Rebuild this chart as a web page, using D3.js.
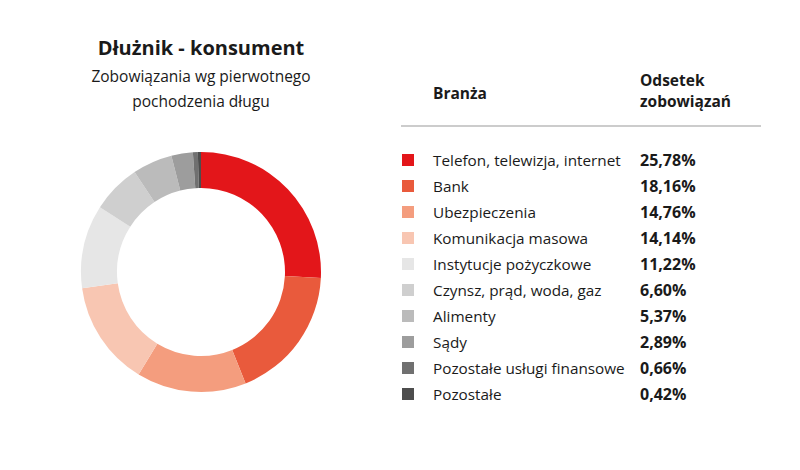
<!DOCTYPE html>
<meta charset="utf-8">
<script src="https://d3js.org/d3.v7.min.js"></script>
<style>
  body { margin: 0; background: #fff; }
  text { font-family: "Open Sans", sans-serif; fill: #1a1a1a; }
</style>
<div id="my_dataviz"></div>
<script>

// data
var categories = ["Telefon, telewizja, internet", "Bank", "Ubezpieczenia", "Komunikacja masowa",
  "Instytucje pożyczkowe", "Czynsz, prąd, woda, gaz", "Alimenty", "Sądy",
  "Pozostałe usługi finansowe", "Pozostałe"];
var values = [25.78, 18.16, 14.76, 14.14, 11.22, 6.60, 5.37, 2.89, 0.66, 0.42];
var colors = ["#e3161a", "#e95a3c", "#f49d7e", "#f8c6b2", "#e6e6e6", "#cfcfcf", "#bbbbbb", "#9d9d9d", "#707070", "#4d4d4d"];

var width = 800, height = 470;

var svg = d3.select("#my_dataviz")
  .append("svg")
    .attr("width", width)
    .attr("height", height);

// titles
svg.append("text")
  .attr("x", 201).attr("y", 55)
  .attr("text-anchor", "middle")
  .style("font-size", "20px").style("font-weight", "bold")
  .text("Dłużnik - konsument");

svg.append("text")
  .attr("x", 201).attr("y", 82)
  .attr("text-anchor", "middle")
  .style("font-size", "15.5px")
  .text("Zobowiązania wg pierwotnego");

svg.append("text")
  .attr("x", 201).attr("y", 107)
  .attr("text-anchor", "middle")
  .style("font-size", "15.5px")
  .text("pochodzenia długu");

// donut
var color = d3.scaleOrdinal().domain(categories).range(colors);

var pie = d3.pie().sort(null).value(function(d, i) { return values[i]; });
var arc = d3.arc().innerRadius(84).outerRadius(120);

var g = svg.append("g").attr("transform", "translate(201,272)");
g.selectAll("path")
  .data(pie(categories))
  .enter()
  .append("path")
    .attr("d", arc)
    .attr("fill", function(d) { return color(d.data); });

// legend table
var rowY = d3.scalePoint().domain(categories).range([160, 394]);

svg.append("text")
  .attr("x", 433).attr("y", 99)
  .style("font-size", "15.5px").style("font-weight", "bold")
  .text("Branża");
svg.append("text")
  .attr("x", 640).attr("y", 86)
  .style("font-size", "15.5px").style("font-weight", "bold")
  .text("Odsetek");
svg.append("text")
  .attr("x", 640).attr("y", 107)
  .style("font-size", "15.5px").style("font-weight", "bold")
  .text("zobowiązań");

svg.append("line")
  .attr("x1", 401).attr("x2", 761)
  .attr("y1", 126).attr("y2", 126)
  .attr("stroke", "#cccccc")
  .attr("stroke-width", 2);

var rows = svg.selectAll(".row")
  .data(categories)
  .enter()
  .append("g")
    .attr("class", "row")
    .attr("transform", function(d) { return "translate(0," + rowY(d) + ")"; });

rows.append("rect")
  .attr("x", 402).attr("y", -6)
  .attr("width", 12).attr("height", 12)
  .attr("fill", function(d) { return color(d); });

rows.append("text")
  .attr("x", 433).attr("y", 5.5)
  .style("font-size", "15.3px")
  .text(function(d) { return d; });

rows.append("text")
  .attr("x", 640).attr("y", 5.5)
  .style("font-size", "16px").style("font-weight", "bold")
  .text(function(d, i) { return values[i].toFixed(2).replace(".", ",") + "%"; });

</script>
